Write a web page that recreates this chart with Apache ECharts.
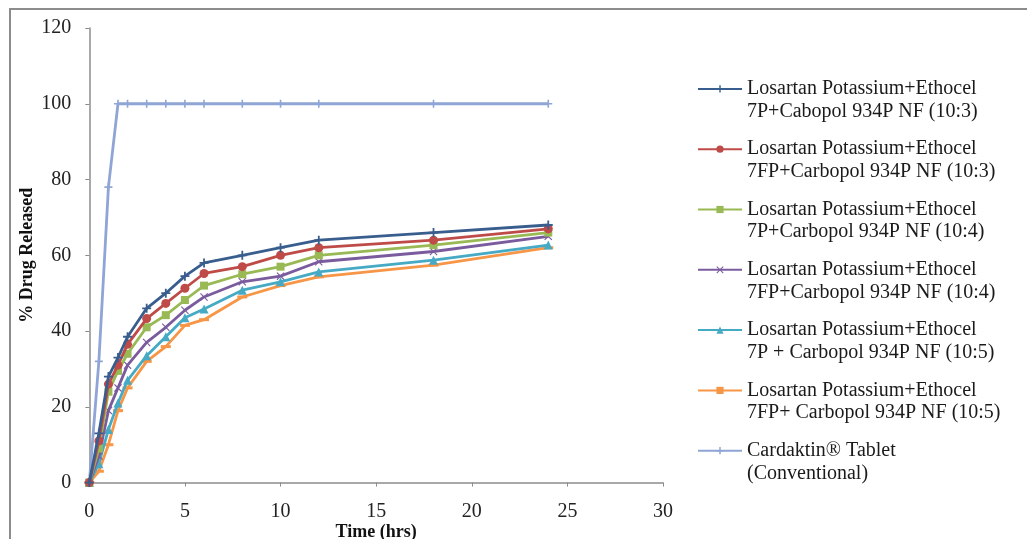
<!DOCTYPE html>
<html>
<head>
<meta charset="utf-8">
<script src="https://cdn.jsdelivr.net/npm/echarts@6/dist/echarts.min.js"></script>
<style>
html,body{margin:0;padding:0;background:#fff;}
#c{width:1027px;height:539px;}
</style>
</head>
<body>
<div id="c"></div>
<script>
// ---- data ----
const times = [0, 0.5, 1, 1.5, 2, 3, 4, 5, 6, 8, 10, 12, 18, 24];
const f1 = [0, 13, 28, 33, 38.5, 46, 50, 54.5, 58, 60, 62, 64, 66, 68];
const f2 = [0, 11, 26, 31, 36.5, 43.3, 47.3, 51.3, 55.2, 57, 60, 62, 64, 67];
const f3 = [0, 9, 24, 29.5, 34, 41, 44.2, 48.2, 52, 55, 57, 60, 62.7, 66];
const f4 = [0, 7, 19, 25, 31, 37, 41, 45.5, 49, 53, 54.5, 58.3, 61, 65];
const f5 = [0, 5, 14, 21, 27, 33.5, 38.5, 43.5, 45.8, 50.8, 53, 55.6, 58.7, 62.7];
const f6 = [0, 3, 10, 19, 25, 32, 35.9, 41.5, 43, 49, 52, 54.3, 57.4, 62];
const cardaktin = [0, 32, 78, 100, 100, 100, 100, 100, 100, 100, 100, 100, 100, 100];
const seriesNames = [
  'Losartan Potassium+Ethocel\n7P+Cabopol 934P NF (10:3)',
  'Losartan Potassium+Ethocel\n7FP+Carbopol 934P NF (10:3)',
  'Losartan Potassium+Ethocel\n7P+Carbopol 934P NF (10:4)',
  'Losartan Potassium+Ethocel\n7FP+Carbopol 934P NF (10:4)',
  'Losartan Potassium+Ethocel\n7P + Carbopol 934P NF (10:5)',
  'Losartan Potassium+Ethocel\n7FP+ Carbopol 934P NF (10:5)',
  'Cardaktin\u00AE Tablet\n(Conventional)'
];
const xTicks = [0, 5, 10, 15, 20, 25, 30];
const yTicks = [0, 20, 40, 60, 80, 100, 120];

// ---- styles ----
const colors = ['#395E8E', '#BE4B48', '#98B954', '#7A5C9E', '#46AAC5', '#F79646', '#8FA5D6'];
const PLUS = 'path://M4,0h2v10h-2z M0,4h10v2h-10z';
const XMARK = 'path://M1,0L5,4L9,0L10,1L6,5L10,9L9,10L5,6L1,10L0,9L4,5L0,1Z';
const DASH = 'path://M0,0h10v3h-10z';
const symbols = [PLUS, 'circle', 'rect', XMARK, 'triangle', DASH, PLUS];
const symbolSizes = [9, 9, 8, 8, 9, [10, 3], 8];
const allVals = [f1, f2, f3, f4, f5, f6, cardaktin];
const FONT = '"Liberation Serif", "Times New Roman", serif';

const series = allVals.map((vals, i) => ({
  name: seriesNames[i],
  type: 'line',
  data: times.map((t, k) => [t, vals[k]]),
  symbol: symbols[i],
  symbolSize: symbolSizes[i],
  showAllSymbol: true,
  lineStyle: { width: 2.8, color: colors[i] },
  itemStyle: { color: colors[i] },
  z: 10 - i,
  animation: false
}));

const chart = echarts.init(document.getElementById('c'));
chart.setOption({
  animation: false,
  backgroundColor: '#ffffff',
  color: colors,
  graphic: [{
    type: 'rect', z: -1, silent: true,
    shape: { x: 10, y: 9, width: 1100, height: 600 },
    style: { fill: 'none', stroke: '#8c8c8c', lineWidth: 2 }
  }],
  grid: { left: 89.3, right: 364, top: 28, bottom: 56.4, containLabel: false, outerBoundsMode: 'none' },
  xAxis: {
    type: 'value', min: 0, max: 30, interval: 5,
    name: 'Time (hrs)', nameLocation: 'middle', nameGap: 41, nameMoveOverlap: false,
    nameTextStyle: { fontFamily: FONT, fontSize: 18, fontWeight: 'bold', color: '#111' },
    axisLine: { lineStyle: { color: '#8c8c8c', width: 1.5 } },
    axisTick: { show: true, length: 4, lineStyle: { color: '#8c8c8c' } },
    axisLabel: { fontFamily: FONT, fontSize: 20, color: '#222', margin: 19,
      formatter: v => xTicks.includes(v) ? String(v) : '' },
    splitLine: { show: false }
  },
  yAxis: {
    type: 'value', min: 0, max: 120, interval: 20,
    name: '% Drug Released', nameLocation: 'middle', nameGap: 53, nameRotate: 90, nameMoveOverlap: false,
    nameTextStyle: { fontFamily: FONT, fontSize: 18, fontWeight: 'bold', color: '#111' },
    axisLine: { show: true, lineStyle: { color: '#8c8c8c', width: 1.5 } },
    axisTick: { show: true, length: 4, lineStyle: { color: '#8c8c8c' } },
    axisLabel: { fontFamily: FONT, fontSize: 20, color: '#222', margin: 18,
      formatter: v => yTicks.includes(v) ? String(v) : '' },
    splitLine: { show: false }
  },
  legend: {
    orient: 'vertical', left: 697, top: 55, padding: 0,
    itemGap: -7.5, itemWidth: 44, itemHeight: 9,
    selectedMode: false,
    data: seriesNames,
    formatter: name => '\n' + name,
    textStyle: { fontFamily: FONT, fontSize: 20, lineHeight: 22.6, color: '#1a1a1a' }
  },
  series: series
});
</script>
</body>
</html>
